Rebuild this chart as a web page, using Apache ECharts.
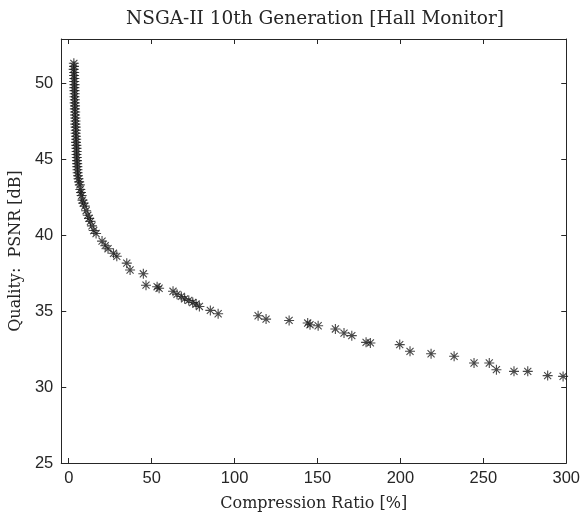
<!DOCTYPE html>
<html>
<head>
<meta charset="utf-8">
<script src="https://cdn.jsdelivr.net/npm/echarts@6/dist/echarts.min.js"></script>
<style>
  html, body { margin: 0; padding: 0; background: #fff; }
  #chart { width: 583px; height: 517px; }
</style>
</head>
<body>
<div id="chart"></div>
<script>
// Pareto front after 10 generations: compression ratio [%] vs PSNR [dB]
var compressionRatio = [
  3.1, 3.2, 3.0, 3.3, 3.2, 3.4, 3.3, 3.5, 3.4, 3.5, 3.6, 3.5, 3.7, 3.6, 3.8, 3.7,
  3.9, 3.8, 4.0, 4.1, 4.0, 4.2, 4.3, 4.2, 4.4, 4.5, 4.4, 4.6, 4.7, 4.8, 4.7, 4.9,
  5.0, 5.1, 5.2, 5.3, 5.4, 5.6, 5.9, 6.3, 6.7, 7.0, 7.4, 7.8, 8.3, 8.8, 9.7, 10.5,
  11.5, 12.3, 13.1, 14.0, 15.1, 16.5,
  20.1, 22.0, 23.7, 27.0, 29.0, 35.0, 37.0, 45.0, 46.6, 53.3, 54.5, 62.9, 65.3,
  67.9, 69.9, 72.4, 74.8, 76.8, 78.8, 85.4, 90.1, 114.2, 119.0, 132.9, 144.1,
  145.5, 150.4, 160.8, 166.0, 170.7, 179.3, 181.9, 199.6, 205.8, 218.5, 232.4,
  244.4, 253.6, 257.9, 268.5, 276.8, 288.8, 298.1
];
var psnr = [
  51.3, 51.1, 50.9, 50.7, 50.5, 50.3, 50.1, 49.9, 49.7, 49.5, 49.3, 49.1, 48.9, 48.7, 48.5, 48.3,
  48.1, 47.9, 47.7, 47.5, 47.3, 47.1, 46.9, 46.7, 46.5, 46.3, 46.1, 45.9, 45.7, 45.5, 45.3, 45.1,
  44.9, 44.7, 44.5, 44.3, 44.1, 43.9, 43.7, 43.5, 43.3, 43.0, 42.8, 42.6, 42.3, 42.1, 41.9, 41.6,
  41.3, 41.1, 40.9, 40.6, 40.3, 40.1,
  39.6, 39.3, 39.1, 38.8, 38.6, 38.15, 37.7, 37.45, 36.7, 36.6, 36.5, 36.3, 36.1,
  35.96, 35.8, 35.7, 35.56, 35.46, 35.3, 35.04, 34.82, 34.69, 34.47, 34.38, 34.21,
  34.1, 34.03, 33.82, 33.55, 33.38, 32.94, 32.9, 32.79, 32.35, 32.19, 32.02,
  31.58, 31.58, 31.14, 31.03, 31.03, 30.75, 30.7
];
var xTicks = [0, 50, 100, 150, 200, 250, 300];
var yTicks = [25, 30, 35, 40, 45, 50];

var points = compressionRatio.map(function (c, i) { return [c, psnr[i]]; });

// asterisk marker: plus and cross strokes
var asterisk = 'path://M0,-10L0,10M-10,0L10,0M-7.07,-7.07L7.07,7.07M-7.07,7.07L7.07,-7.07';

var axisColor = '#262626';
var labelFont = { fontFamily: 'Liberation Sans', fontSize: 16.5, color: '#262626' };
var serif = 'DejaVu Serif';

function xAxisDef(pos, showLabels, name) {
  return {
    type: 'value', position: pos, min: -4.5, max: 300,
    name: name, nameLocation: 'middle', nameGap: 33,
    nameTextStyle: { fontFamily: serif, fontSize: 16, color: '#262626' },
    axisLine: { show: true, onZero: false, lineStyle: { color: axisColor, width: 1 } },
    axisTick: { show: true, inside: true, length: 5, customValues: xTicks, lineStyle: { color: axisColor } },
    axisLabel: Object.assign({ show: showLabels, customValues: xTicks, margin: 7 }, labelFont),
    splitLine: { show: false }
  };
}
function yAxisDef(pos, showLabels, name) {
  return {
    type: 'value', position: pos, min: 25, max: 52.9,
    name: name, nameLocation: 'middle', nameGap: 36,
    nameTextStyle: { fontFamily: serif, fontSize: 16, color: '#262626' },
    axisLine: { show: true, onZero: false, lineStyle: { color: axisColor, width: 1 } },
    axisTick: { show: true, inside: true, length: 5, customValues: yTicks, lineStyle: { color: axisColor } },
    axisLabel: Object.assign({ show: showLabels, customValues: yTicks, margin: 8 }, labelFont),
    splitLine: { show: false }
  };
}

var chart = echarts.init(document.getElementById('chart'), null, { renderer: 'canvas' });
chart.setOption({
  backgroundColor: '#ffffff',
  animation: false,
  title: {
    text: 'NSGA-II 10th Generation [Hall Monitor]',
    left: 310, top: 5, textAlign: 'center',
    textStyle: { fontFamily: serif, fontSize: 18.5, fontWeight: 'normal', color: '#262626' }
  },
  grid: { left: 60.5, right: 12.5, top: 39, bottom: 53.5, containLabel: false },
  xAxis: [xAxisDef('bottom', true, 'Compression Ratio [%]'), xAxisDef('top', false, '')],
  yAxis: [yAxisDef('left', true, 'Quality:  PSNR [dB]'), yAxisDef('right', false, '')],
  series: [{
    type: 'scatter',
    data: points,
    symbol: asterisk,
    symbolSize: 10,
    itemStyle: { color: 'none', borderColor: '#1a1a1a', borderWidth: 1.1 }
  }]
});
</script>
</body>
</html>
